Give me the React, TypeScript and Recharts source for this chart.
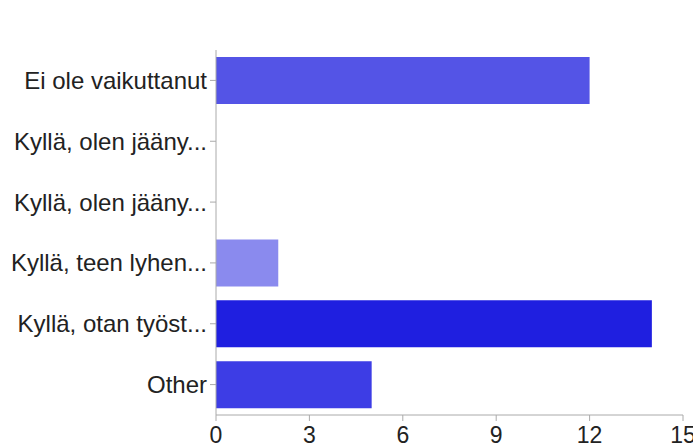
import { BarChart, Bar, XAxis, YAxis, Cell } from 'recharts';

const categories = [
  'Ei ole vaikuttanut',
  'Kyllä, olen jääny...',
  'Kyllä, olen jääny...',
  'Kyllä, teen lyhen...',
  'Kyllä, otan työst...',
  'Other',
];
const counts = [12, 0, 0, 2, 14, 5];
const barColors = ['#5454e6', '#5454e6', '#5454e6', '#8a8aee', '#1f1fe0', '#3d3de5'];
const xTicks = [0, 3, 6, 9, 12, 15];

export default function App() {
  const chartData = categories.map((label, i) => ({ label, count: counts[i] }));

  return (
    <div style={{ position: 'absolute', left: 0, top: 0 }}>
      <BarChart
        width={693}
        height={448}
        layout="vertical"
        data={chartData}
        margin={{ top: 50, right: 10, bottom: 0, left: 0 }}
        style={{ fontFamily: '"Liberation Sans", Arial, sans-serif' }}
      >
        <XAxis
          type="number"
          domain={[0, 15]}
          ticks={xTicks}
          height={33}
          stroke="#aaaaaa"
          tickSize={6}
          tickMargin={6}
          tick={{ fill: '#222222', fontSize: 23 }}
          interval={0}
        />
        <YAxis
          type="category"
          dataKey="label"
          width={216}
          stroke="#aaaaaa"
          tickSize={6}
          tickMargin={3}
          tick={{ fill: '#222222', fontSize: 24 }}
          interval={0}
        />
        <Bar dataKey="count" barSize={47} isAnimationActive={false}>
          {chartData.map((d, i) => (
            <Cell key={i} fill={barColors[i]} />
          ))}
        </Bar>
      </BarChart>
    </div>
  );
}
